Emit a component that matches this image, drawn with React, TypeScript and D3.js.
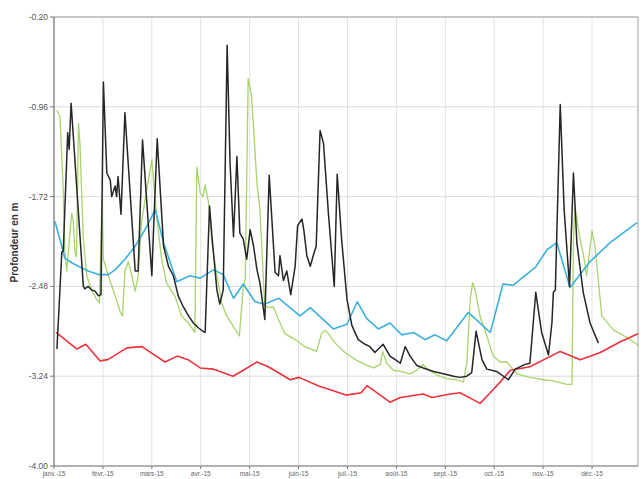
import React from "react";
import * as d3 from "d3";

// x values are positions in months from 1 Jan 2015 (0 = janv., 1 = févr., ...)
const monthLabels = ["janv.-15", "févr.-15", "mars-15", "avr.-15", "mai-15", "juin-15", "juil.-15", "août-15", "sept.-15", "oct.-15", "nov.-15", "déc.-15"];
const yTicks = [-0.2, -0.96, -1.72, -2.48, -3.24, -4.0];

const redSeries: [number, number][] = [
  [0.04, -2.87], [0.47, -3.01], [0.65, -2.97], [0.94, -3.11], [1.10, -3.10], [1.49, -3.00], [1.80, -2.99], [1.98, -3.04],
  [2.27, -3.12], [2.52, -3.07], [2.74, -3.10], [2.99, -3.17], [3.25, -3.18], [3.66, -3.24], [3.87, -3.19], [4.15, -3.12],
  [4.38, -3.16], [4.83, -3.27], [5.01, -3.25], [5.40, -3.32], [5.97, -3.40], [6.28, -3.38], [6.40, -3.32], [6.87, -3.46],
  [7.08, -3.42], [7.55, -3.39], [7.73, -3.42], [8.10, -3.39], [8.30, -3.38], [8.53, -3.43], [8.71, -3.47], [8.92, -3.38],
  [9.12, -3.29], [9.33, -3.19], [9.73, -3.16], [10.35, -3.03], [10.76, -3.10], [11.17, -3.04], [11.57, -2.95], [11.94, -2.88],
];

const blueSeries: [number, number][] = [
  [0.02, -1.93], [0.16, -2.14], [0.22, -2.24], [0.36, -2.28], [0.50, -2.31], [0.70, -2.35], [0.91, -2.38], [1.11, -2.38],
  [1.25, -2.34], [1.45, -2.25], [1.66, -2.14], [1.86, -2.00], [2.00, -1.89], [2.07, -1.83], [2.24, -2.11], [2.51, -2.44],
  [2.78, -2.39], [2.99, -2.41], [3.26, -2.34], [3.46, -2.38], [3.67, -2.58], [3.87, -2.46], [4.11, -2.61], [4.31, -2.63],
  [4.59, -2.58], [5.03, -2.73], [5.24, -2.66], [5.71, -2.84], [5.99, -2.80], [6.20, -2.61], [6.39, -2.75], [6.63, -2.84],
  [6.87, -2.79], [7.11, -2.89], [7.35, -2.87], [7.59, -2.93], [7.79, -2.89], [8.03, -2.94], [8.47, -2.70], [8.92, -2.87],
  [9.18, -2.46], [9.39, -2.47], [9.84, -2.32], [10.08, -2.17], [10.28, -2.11], [10.55, -2.49], [10.96, -2.27], [11.37, -2.11],
  [11.92, -1.94],
];

const blackSeries: [number, number][] = [
  [0.06, -3.01], [0.16, -2.19], [0.19, -2.18], [0.28, -1.18], [0.31, -1.32], [0.35, -0.93], [0.60, -2.48], [0.63, -2.50],
  [0.70, -2.48], [0.77, -2.51], [0.84, -2.52], [0.91, -2.56], [0.96, -2.55], [1.01, -0.75], [1.08, -1.52], [1.15, -1.58],
  [1.18, -1.72], [1.25, -1.63], [1.28, -1.72], [1.31, -1.55], [1.37, -1.87], [1.45, -1.01], [1.66, -2.35], [1.72, -2.35],
  [1.81, -1.24], [2.00, -2.39], [2.03, -2.06], [2.11, -1.23], [2.24, -2.14], [2.34, -2.31], [2.44, -2.39], [2.54, -2.56],
  [2.64, -2.65], [2.75, -2.73], [2.85, -2.79], [2.95, -2.83], [3.05, -2.86], [3.09, -2.87], [3.18, -1.80], [3.23, -2.06],
  [3.33, -2.51], [3.39, -2.63], [3.46, -2.51], [3.54, -0.44], [3.60, -1.44], [3.67, -2.06], [3.74, -1.38], [3.80, -2.03],
  [3.87, -2.08], [3.94, -2.25], [4.01, -2.00], [4.08, -2.14], [4.15, -2.34], [4.21, -2.45], [4.31, -2.76], [4.40, -1.54],
  [4.52, -2.36], [4.59, -2.39], [4.62, -2.22], [4.69, -2.43], [4.76, -2.35], [4.84, -2.55], [4.93, -2.31], [4.98, -1.97],
  [5.02, -1.94], [5.07, -1.91], [5.11, -2.01], [5.17, -2.22], [5.24, -2.31], [5.30, -2.22], [5.36, -2.14], [5.44, -1.16],
  [5.51, -1.27], [5.61, -1.86], [5.73, -2.48], [5.79, -1.53], [5.88, -2.08], [5.99, -2.59], [6.09, -2.81], [6.22, -2.93],
  [6.36, -2.97], [6.46, -2.99], [6.56, -3.04], [6.73, -2.97], [6.87, -3.07], [7.08, -3.13], [7.18, -2.99], [7.28, -3.07],
  [7.42, -3.15], [7.55, -3.17], [7.76, -3.20], [7.96, -3.22], [8.17, -3.24], [8.30, -3.25], [8.44, -3.24], [8.54, -3.21],
  [8.63, -2.86], [8.75, -3.10], [8.85, -3.18], [9.05, -3.20], [9.29, -3.27], [9.43, -3.18], [9.63, -3.14], [9.73, -3.13],
  [9.85, -2.53], [9.97, -2.87], [10.11, -3.06], [10.18, -2.79], [10.21, -2.53], [10.25, -2.51], [10.35, -0.94], [10.43, -1.83],
  [10.54, -2.48], [10.62, -1.52], [10.69, -2.11], [10.82, -2.53], [10.96, -2.79], [11.13, -2.96],
];

const greenSeries: [number, number][] = [
  [0.06, -0.99], [0.12, -1.04], [0.19, -1.66], [0.22, -2.17], [0.26, -2.35], [0.36, -1.86], [0.39, -1.91], [0.43, -2.20],
  [0.46, -2.23], [0.50, -1.10], [0.53, -1.27], [0.60, -2.08], [0.67, -2.39], [0.77, -2.51], [0.87, -2.59], [0.93, -2.62],
  [0.98, -1.75], [1.01, -2.25], [1.11, -2.39], [1.25, -2.56], [1.35, -2.69], [1.40, -2.73], [1.45, -2.35], [1.52, -2.27],
  [1.59, -2.39], [1.66, -2.52], [1.72, -2.39], [1.79, -1.94], [1.86, -1.75], [2.00, -1.41], [2.10, -1.89], [2.20, -2.25],
  [2.30, -2.45], [2.47, -2.56], [2.61, -2.73], [2.75, -2.79], [2.88, -2.87], [2.92, -1.47], [2.99, -1.69], [3.05, -1.72],
  [3.09, -1.62], [3.16, -1.77], [3.23, -2.11], [3.33, -2.39], [3.43, -2.62], [3.53, -2.73], [3.67, -2.82], [3.79, -2.90],
  [3.87, -2.48], [3.91, -2.42], [3.97, -0.72], [4.04, -0.87], [4.15, -1.61], [4.21, -1.83], [4.31, -2.65], [4.42, -2.66],
  [4.48, -2.65], [4.59, -2.76], [4.72, -2.88], [4.93, -2.93], [5.13, -2.99], [5.37, -3.03], [5.47, -2.88], [5.54, -2.85],
  [5.61, -2.88], [5.75, -2.96], [5.95, -3.04], [6.16, -3.10], [6.36, -3.14], [6.53, -3.17], [6.67, -3.14], [6.72, -3.03],
  [6.80, -3.13], [6.94, -3.19], [7.08, -3.20], [7.28, -3.22], [7.42, -3.19], [7.55, -3.14], [7.66, -3.19], [7.83, -3.23],
  [8.03, -3.26], [8.24, -3.27], [8.37, -3.29], [8.44, -3.13], [8.51, -2.59], [8.56, -2.45], [8.61, -2.51], [8.71, -2.73],
  [8.85, -2.90], [8.98, -3.07], [9.12, -3.12], [9.26, -3.12], [9.46, -3.22], [9.73, -3.25], [10.01, -3.27], [10.21, -3.28],
  [10.48, -3.31], [10.59, -3.31], [10.62, -2.09], [10.65, -1.81], [10.76, -2.09], [10.82, -2.20], [10.89, -2.39], [11.00, -2.01],
  [11.06, -2.14], [11.20, -2.73], [11.44, -2.85], [11.71, -2.91], [11.95, -2.98],
];

const W = 644;
const H = 479;
const left = 54;
const right = 638;
const top = 17;
const bottom = 466;

export default function App() {
  const x = d3.scaleLinear().domain([0, 11.94]).range([left, right]);
  const y = d3.scaleLinear().domain([-4.0, -0.2]).range([bottom, top]);
  const line = d3
    .line<[number, number]>()
    .x((d) => x(d[0]))
    .y((d) => y(d[1]));

  const series = [
    { data: greenSeries, color: "#a8d46c", width: 1.3 },
    { data: redSeries, color: "#e8333c", width: 1.6 },
    { data: blueSeries, color: "#3cb1dc", width: 1.6 },
    { data: blackSeries, color: "#262626", width: 1.5 },
  ];

  return (
    <svg
      width={W}
      height={H}
      style={{ position: "absolute", left: 0, top: 0, background: "#fff" }}
      fontFamily="Arial, 'Liberation Sans', sans-serif"
    >
      <rect x={0} y={0} width={W} height={H} fill="#fff" />
      {/* grid */}
      {yTicks.map((t) => (
        <line key={"gy" + t} x1={left} x2={right} y1={y(t)} y2={y(t)} stroke="#dcdcdc" strokeWidth={1} />
      ))}
      {monthLabels.map((m, i) => (
        <line key={"gx" + m} x1={x(i)} x2={x(i)} y1={top} y2={bottom} stroke="#e2e2e2" strokeWidth={1} />
      ))}
      {/* frame */}
      <line x1={left} x2={right} y1={top} y2={top} stroke="#a0a0a0" strokeWidth={1} />
      <line x1={right} x2={right} y1={top} y2={bottom} stroke="#a0a0a0" strokeWidth={1} />
      {/* series */}
      {series.map((s, i) => (
        <path key={i} d={line(s.data) || ""} fill="none" stroke={s.color} strokeWidth={s.width} strokeLinejoin="round" />
      ))}
      {/* axes */}
      <line x1={left} x2={left} y1={top} y2={bottom} stroke="#777" strokeWidth={1.2} />
      <line x1={left} x2={right} y1={bottom} y2={bottom} stroke="#777" strokeWidth={1.2} />
      {yTicks.map((t) => (
        <g key={"yt" + t}>
          <line x1={left - 4} x2={left} y1={y(t)} y2={y(t)} stroke="#777" />
          <text x={left - 6} y={y(t)} dy="0.35em" textAnchor="end" fontSize={8.5} fill="#555">
            {t.toFixed(2)}
          </text>
        </g>
      ))}
      {monthLabels.map((m, i) => (
        <g key={"xt" + m}>
          <line x1={x(i)} x2={x(i)} y1={bottom} y2={bottom + 3} stroke="#777" />
          <text x={x(i)} y={bottom + 10} textAnchor="middle" fontSize={6.5} fill="#666">
            {m}
          </text>
        </g>
      ))}
      <text
        transform={`translate(18, ${(top + bottom) / 2 + 1}) rotate(-90)`}
        textAnchor="middle"
        fontSize={10}
        fontWeight="bold"
        fill="#333"
      >
        Profondeur en m
      </text>
    </svg>
  );
}
